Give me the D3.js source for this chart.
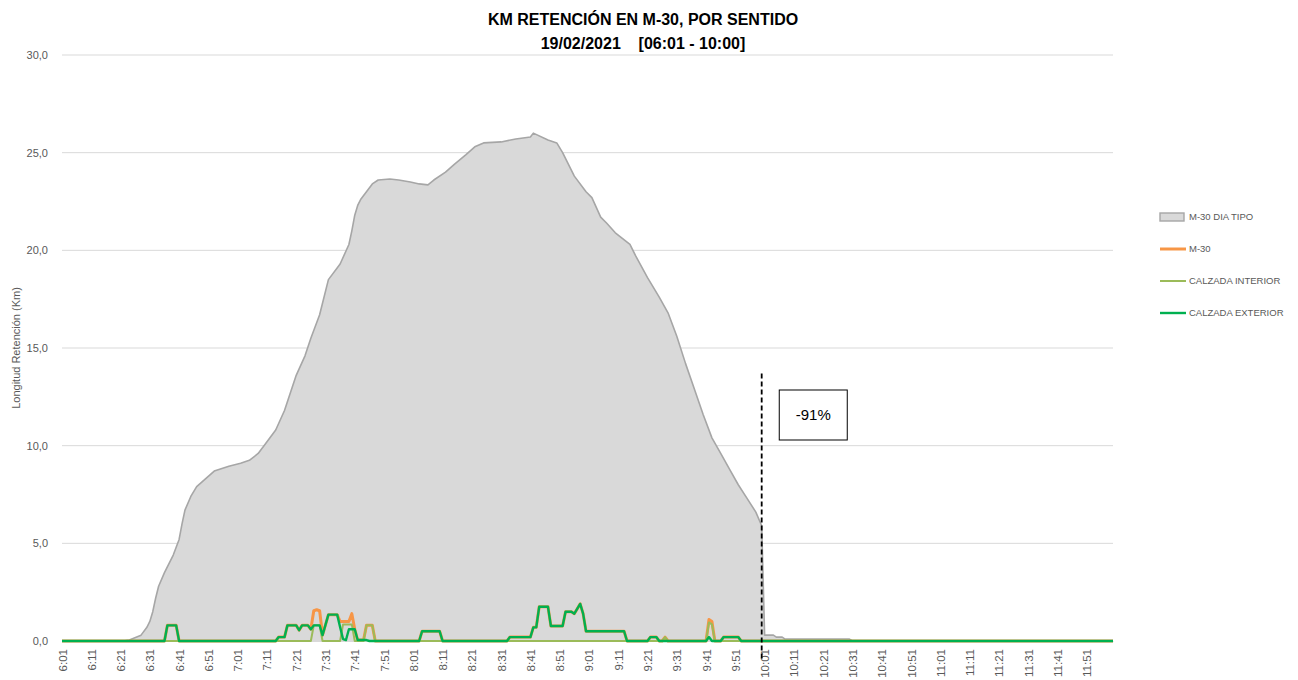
<!DOCTYPE html>
<html>
<head>
<meta charset="utf-8">
<script src="https://cdn.jsdelivr.net/npm/d3@7"></script>
<style>
  body { margin: 0; background: #fff; }
  text { font-family: "Liberation Sans", Arial, sans-serif; }
</style>
</head>
<body>
<svg id="chart" width="1298" height="680"></svg>
<script>
// series as [time, km] breakpoints
const diaTipo = [
  ["6:01",0],["6:22",0],["6:24",0.05],["6:28",0.3],["6:30",0.7],["6:31",1.0],["6:32",1.5],["6:33",2.2],["6:34",2.8],
  ["6:36",3.5],["6:39",4.4],["6:41",5.2],["6:42",6.0],["6:43",6.7],["6:45",7.4],["6:47",7.9],["6:50",8.3],["6:53",8.7],
  ["6:58",8.95],["7:02",9.1],["7:05",9.25],["7:08",9.6],["7:10",10.0],["7:14",10.8],["7:17",11.8],["7:21",13.6],
  ["7:24",14.6],["7:26",15.5],["7:29",16.7],["7:32",18.5],["7:36",19.3],["7:39",20.3],["7:40",21.0],["7:41",21.8],
  ["7:42",22.3],["7:43",22.6],["7:45",23.0],["7:47",23.4],["7:49",23.6],
  ["7:53",23.65],["7:56",23.6],["8:00",23.5],["8:03",23.4],["8:06",23.35],["8:08",23.6],["8:12",24.0],["8:15",24.4],
  ["8:19",24.9],["8:22",25.3],["8:25",25.5],["8:31",25.55],["8:36",25.7],["8:41",25.8],["8:42",26.0],["8:47",25.65],
  ["8:50",25.5],["8:52",25.0],["8:56",23.8],["9:00",23.0],["9:02",22.7],["9:05",21.7],["9:07",21.4],["9:10",20.9],
  ["9:15",20.3],["9:17",19.7],["9:21",18.6],["9:25",17.6],["9:28",16.8],["9:31",15.6],["9:34",14.2],["9:37",12.9],
  ["9:40",11.6],["9:43",10.4],["9:46",9.6],["9:49",8.8],["9:52",8.0],["9:55",7.3],["9:58",6.6],["10:00",5.9],
  ["10:01",0.3],["10:04",0.3],["10:05",0.2],["10:07",0.2],["10:08",0.1],["10:30",0.1],["10:31",0],["12:00",0]
];
const m30 = [
  ["6:01",0],["6:36",0],["6:37",0.8],["6:40",0.8],["6:41",0],["7:14",0],["7:15",0.2],["7:17",0.2],["7:18",0.8],
  ["7:21",0.8],["7:22",0.55],["7:23",0.8],["7:25",0.8],["7:26",0.6],["7:27",1.55],["7:28",1.6],["7:29",1.55],
  ["7:30",0.3],["7:32",1.35],["7:35",1.35],["7:36",1.0],["7:38",1.0],["7:39",1.0],["7:40",1.4],["7:41",0.6],
  ["7:42",0.05],["7:44",0.05],["7:45",0.8],["7:47",0.8],["7:48",0],["8:03",0],["8:04",0.5],["8:10",0.5],["8:11",0],
  ["8:33",0],["8:34",0.2],["8:41",0.2],["8:42",0.7],["8:43",0.7],["8:44",1.75],["8:47",1.75],["8:48",0.77],
  ["8:52",0.77],["8:53",1.5],["8:55",1.5],["8:56",1.4],["8:58",1.9],["8:59",1.4],["9:00",0.5],["9:13",0.5],
  ["9:14",0],["9:21",0],["9:22",0.2],["9:24",0.2],["9:25",0],["9:26",0],["9:27",0.2],["9:28",0],["9:41",0],
  ["9:42",1.1],["9:43",1.0],["9:44",0],["9:46",0],["9:47",0.2],["9:52",0.2],["9:53",0],["12:00",0]
];
const interior = [
  ["6:01",0],["7:26",0],["7:27",0.8],["7:29",0.8],["7:30",0],["7:36",0],["7:37",0.85],["7:40",0.85],["7:41",0],
  ["7:44",0],["7:45",0.8],["7:47",0.8],["7:48",0],["9:26",0],["9:27",0.2],["9:28",0],["9:41",0],["9:42",0.95],
  ["9:43",0.85],["9:44",0],["12:00",0]
];
const exterior = [
  ["6:01",0],["6:36",0],["6:37",0.8],["6:40",0.8],["6:41",0],["7:14",0],["7:15",0.2],["7:17",0.2],["7:18",0.8],
  ["7:21",0.8],["7:22",0.55],["7:23",0.8],["7:25",0.8],["7:26",0.6],["7:27",0.8],["7:29",0.8],["7:30",0.3],
  ["7:32",1.35],["7:35",1.35],["7:36",0.7],["7:37",0.1],["7:38",0.05],["7:39",0.6],["7:41",0.6],["7:42",0.05],
  ["7:45",0.05],["7:46",0],["8:03",0],["8:04",0.5],["8:10",0.5],["8:11",0],["8:33",0],["8:34",0.2],["8:41",0.2],
  ["8:42",0.7],["8:43",0.7],["8:44",1.75],["8:47",1.75],["8:48",0.77],["8:52",0.77],["8:53",1.5],["8:55",1.5],
  ["8:56",1.4],["8:58",1.9],["8:59",1.4],["9:00",0.5],["9:13",0.5],["9:14",0],["9:21",0],["9:22",0.2],["9:24",0.2],
  ["9:25",0],["9:41",0],["9:42",0.2],["9:43",0],["9:46",0],["9:47",0.2],["9:52",0.2],["9:53",0],["12:00",0]
];
const yTicks = [0, 5, 10, 15, 20, 25, 30];
const firstTime = "6:01", lastTime = "12:00", tickEvery = 10;
const cutTime = "10:00";
const cutLabel = "-91%";
const titleLines = ["KM RETENCIÓN EN M-30, POR SENTIDO", "19/02/2021    [06:01 - 10:00]"];
const legendNames = ["M-30 DIA TIPO", "M-30", "CALZADA INTERIOR", "CALZADA EXTERIOR"];

function toMin(t) {
  let p = t.split(":");
  return (+p[0]) * 60 + (+p[1]);
}
function fmtMin(m) {
  return Math.floor(m / 60) + ":" + String(m % 60).padStart(2, "0");
}

const svg = d3.select("#chart");
const margin = {top: 55, left: 62, right: 185, bottom: 39};
const width = 1298, height = 680;
const t0 = toMin(firstTime), t1 = toMin(lastTime);

const x = d3.scaleLinear().domain([t0, t1]).range([margin.left, 1113]);
const y = d3.scaleLinear().domain([0, 30]).range([height - margin.bottom, margin.top]);

// gridlines
svg.append("g").selectAll("line").data(yTicks).enter().append("line")
  .attr("x1", x(t0)).attr("x2", x(t1))
  .attr("y1", d => y(d)).attr("y2", d => y(d))
  .attr("stroke", "#d9d9d9").attr("stroke-width", 1);

// y axis labels
const yAxis = d3.axisLeft(y).tickValues(yTicks).tickSize(0)
  .tickFormat(d => d3.format(".1f")(d).replace(".", ","));
svg.append("g")
  .attr("transform", "translate(" + (margin.left - 11) + ",0)")
  .call(yAxis)
  .call(g => g.select(".domain").remove())
  .selectAll("text").attr("fill", "#595959").attr("font-size", "11px")
  .attr("font-family", "Liberation Sans, Arial, sans-serif");

svg.append("text")
  .attr("transform", "translate(20," + y(15) + ") rotate(-90)")
  .attr("text-anchor", "middle")
  .attr("fill", "#595959").attr("font-size", "11px")
  .text("Longitud Retención (Km)");

// x labels every 10 minutes
const xTicks = d3.range(t0, t1 + 1, tickEvery);
const xAxis = d3.axisBottom(x).tickValues(xTicks).tickSize(0).tickFormat(fmtMin);
svg.append("g")
  .attr("transform", "translate(0," + y(0) + ")")
  .call(xAxis)
  .call(g => g.select(".domain").attr("stroke", "#d9d9d9"))
  .selectAll("text")
  .attr("fill", "#595959").attr("font-size", "11.5px")
  .attr("font-family", "Liberation Sans, Arial, sans-serif")
  .attr("text-anchor", "end")
  .attr("transform", "rotate(-90)")
  .attr("x", -8).attr("y", 0).attr("dy", "0.35em");

// series
const pts = arr => arr.map(d => [toMin(d[0]), d[1]]);
const area = d3.area().x(d => x(d[0])).y0(y(0)).y1(d => y(d[1]));
const line = d3.line().x(d => x(d[0])).y(d => y(d[1]));

svg.append("path").datum(pts(diaTipo))
  .attr("d", area).attr("fill", "#d9d9d9");
svg.append("path").datum(pts(diaTipo))
  .attr("d", line).attr("fill", "none").attr("stroke", "#a6a6a6").attr("stroke-width", 1.6)
  .attr("stroke-linejoin", "round");

const series = [
  {data: m30, color: "#f79646", w: 3},
  {data: interior, color: "#9bbb59", w: 2},
  {data: exterior, color: "#00b050", w: 2.4}
];
series.forEach(s => {
  svg.append("path").datum(pts(s.data))
    .attr("d", line).attr("fill", "none")
    .attr("stroke", s.color).attr("stroke-width", s.w)
    .attr("stroke-linejoin", "round");
});

// cut marker
const xc = x(toMin(cutTime));
svg.append("line")
  .attr("x1", xc).attr("x2", xc)
  .attr("y1", y(13.7)).attr("y2", y(0) + 19)
  .attr("stroke", "#000").attr("stroke-width", 1.8).attr("stroke-dasharray", "5,3");

const bx = x(toMin(cutTime) + 6), bw = 68, bh = 50, by = y(12.85);
svg.append("rect")
  .attr("x", bx).attr("y", by).attr("width", bw).attr("height", bh)
  .attr("fill", "#fff").attr("stroke", "#000").attr("stroke-width", 1);
svg.append("text")
  .attr("x", bx + bw / 2).attr("y", by + bh / 2).attr("dy", "0.35em")
  .attr("text-anchor", "middle").attr("font-size", "15px").attr("fill", "#000")
  .text(cutLabel);

// title
svg.append("g").selectAll("text").data(titleLines).enter().append("text")
  .attr("x", 643).attr("y", (d, i) => 25 + i * 24)
  .attr("text-anchor", "middle")
  .attr("font-weight", "bold").attr("font-size", "16px").attr("fill", "#000")
  .style("white-space", "pre")
  .text(d => d);

// legend
const lg = svg.append("g").attr("transform", "translate(1160,217)");
const legendColors = ["#a6a6a6", "#f79646", "#9bbb59", "#00b050"];
legendNames.forEach((name, i) => {
  const g = lg.append("g").attr("transform", "translate(0," + (i * 32) + ")");
  if (i === 0) {
    g.append("rect").attr("x", 0).attr("y", -4).attr("width", 24).attr("height", 8)
      .attr("fill", "#d9d9d9").attr("stroke", "#a6a6a6").attr("stroke-width", 1.4);
  } else {
    g.append("line").attr("x1", 0).attr("x2", 26).attr("y1", 0).attr("y2", 0)
      .attr("stroke", legendColors[i]).attr("stroke-width", series[i - 1].w);
  }
  g.append("text").attr("x", 29).attr("y", 0).attr("dy", "0.35em")
    .attr("font-size", "9.5px").attr("fill", "#595959").text(name);
});
</script>
</body>
</html>
